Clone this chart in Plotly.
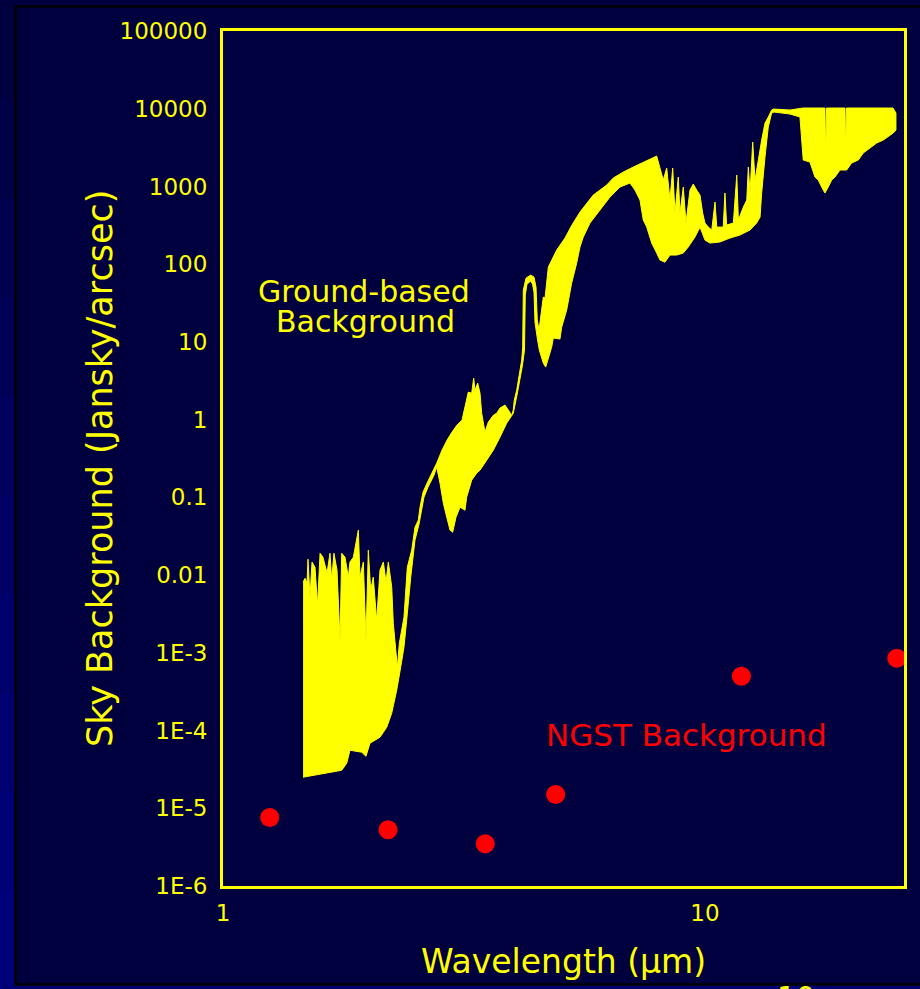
import plotly.graph_objects as go

# ---------------- data ----------------
# Ground-based sky background: upper envelope (wavelength um, Jy/arcsec^2)
ground_upper_wl = [1.466, 1.480, 1.494, 1.501, 1.515, 1.530, 1.552, 1.571, 1.590, 1.612,
                   1.644, 1.667, 1.681, 1.699, 1.724, 1.749, 1.763, 1.791, 1.820, 1.834,
                   1.864, 1.909, 1.924, 1.955, 1.980, 2.002, 2.025, 2.050, 2.084, 2.117,
                   2.151, 2.179, 2.203, 2.239, 2.256, 2.300, 2.322, 2.374, 2.412, 2.463,
                   2.502, 2.542, 2.563, 2.600, 2.650, 2.688, 2.727, 2.776, 2.847, 2.916,
                   2.986, 3.058, 3.132, 3.193, 3.228, 3.281, 3.312, 3.333, 3.376, 3.414,
                   3.441, 3.496, 3.552, 3.638, 3.697, 3.756, 3.847, 3.908, 3.972, 4.002,
                   4.021, 4.068, 4.119, 4.166, 4.186, 4.198, 4.253, 4.349, 4.418, 4.461,
                   4.488, 4.525, 4.619, 4.657, 4.731, 4.808, 4.924, 5.123, 5.297, 5.503,
                   5.682, 5.864, 6.055, 6.252, 6.452, 6.768, 7.099, 7.447, 7.752, 7.939,
                   8.065, 8.193, 8.328, 8.460, 8.570, 8.664, 8.802, 8.874, 9.015, 9.132,
                   9.308, 9.456, 9.611, 9.763, 9.890, 10.00, 10.16, 10.33, 10.49, 10.58,
                   10.91, 11.00, 11.09, 11.45, 11.64, 11.73, 12.01, 12.21, 12.30, 12.40,
                   12.56, 12.70, 13.11, 13.32, 13.53, 13.75, 13.86, 15.01, 15.97, 17.74,
                   17.80, 17.87, 19.52, 19.58, 19.66, 21.99, 24.55, 24.90]
ground_upper_val = [0.0081, 0.0091, 0.0079, 0.0160, 0.0052, 0.0147, 0.0126, 0.0041, 0.0191, 0.0170,
                    0.0106, 0.0191, 0.0086, 0.0191, 0.0116, 0.00145, 0.0191, 0.0170, 0.0094, 0.0147,
                    0.0170, 0.0379, 0.0094, 0.0147, 0.00145, 0.0209, 0.0064, 0.0094, 0.0026, 0.0116,
                    0.0147, 0.0081, 0.0147, 0.0070, 0.0024, 0.00065, 0.00133, 0.00287, 0.0126, 0.0209,
                    0.0413, 0.0509, 0.0748, 0.1166, 0.1523, 0.182, 0.217, 0.276, 0.405, 0.545,
                    0.691, 0.850, 0.985, 1.68, 2.26, 2.19, 3.42, 2.40, 2.95, 2.19,
                    1.21, 0.691, 0.929, 1.14, 1.21, 1.41, 1.54, 1.33, 1.14, 1.33,
                    1.78, 2.40, 3.97, 5.83, 8.57, 46.4, 66.2, 72.4, 68.2, 50.7,
                    19.1, 14.2, 37.7, 36.6, 91.8, 113, 152, 217, 319, 468,
                    611, 775, 899, 1042, 1283, 1532, 1777, 2061, 2321, 2462,
                    1725, 1209, 1725, 668, 1725, 455, 1321, 455, 982, 338,
                    899, 1074, 899, 775, 455, 338, 300, 275, 630, 300,
                    300, 823, 319, 338, 1402, 370, 543, 668, 1777, 823,
                    3727, 1209, 3955, 6545, 7822, 9623, 9911, 9623, 10209, 10209,
                    2186, 10209, 10209, 2940, 10209, 10209, 10209, 8805]

# Ground-based sky background: lower envelope
ground_lower_wl = [1.466, 1.565, 1.667, 1.763, 1.806, 1.834, 1.940, 1.980, 2.018, 2.117,
                   2.186, 2.239, 2.293, 2.337, 2.374, 2.405, 2.452, 2.502, 2.551, 2.575,
                   2.612, 2.663, 2.701, 2.740, 2.776, 2.820, 2.865, 2.912, 2.958, 2.996,
                   3.044, 3.103, 3.178, 3.203, 3.281, 3.360, 3.414, 3.525, 3.638, 3.756,
                   3.878, 4.002, 4.074, 4.132, 4.182, 4.222, 4.238, 4.273, 4.349, 4.387,
                   4.418, 4.439, 4.488, 4.532, 4.619, 4.672, 4.731, 4.808, 4.845, 5.002,
                   5.043, 5.165, 5.289, 5.417, 5.503, 5.591, 5.773, 6.055, 6.351, 6.662,
                   6.988, 7.157, 7.330, 7.447, 7.569, 7.752, 7.939, 8.065, 8.260, 8.460,
                   8.735, 9.015, 9.233, 9.533, 9.763, 10.00, 10.24, 10.74, 11.27, 11.82,
                   12.40, 12.80, 13.01, 13.11, 13.21, 13.32, 13.53, 13.75, 13.91, 15.01,
                   15.74, 15.99, 16.51, 16.91, 17.18, 17.46, 17.74, 18.02, 18.32, 18.61,
                   19.06, 19.68, 20.15, 20.80, 21.30, 21.99, 22.71, 23.44, 24.20, 24.58,
                   24.90]
ground_lower_val = [2.51e-5, 2.74e-5, 2.91e-5, 3.08e-5, 3.79e-5, 5.58e-5, 5.26e-5, 4.67e-5, 6.87e-5, 8.20e-5,
                    1.10e-4, 1.67e-4, 3.30e-4, 6.53e-4, 1.18e-3, 2.63e-3, 9.40e-3, 0.0281, 0.0452, 0.0645,
                    0.1006, 0.1353, 0.1616, 0.1931, 0.2446, 0.1523, 0.0842, 0.0556, 0.0379, 0.0356,
                    0.0556, 0.0748, 0.0684, 0.1006, 0.1665, 0.2049, 0.2239, 0.3011, 0.405, 0.595,
                    0.901, 1.21, 2.07, 3.22, 5.03, 7.84, 40.0, 55.4, 60.6, 55.4,
                    43.7, 18.0, 11.2, 7.84, 5.33, 4.74, 6.37, 8.57, 11.2, 10.9,
                    15.5, 25.7, 57.1, 103, 166, 223, 338, 497, 730, 982,
                    1106, 899, 668, 370, 300, 187, 139, 113, 106, 131,
                    131, 139, 166, 223, 300, 204, 187, 193, 217, 237,
                    275, 338, 404, 823, 1488, 2390, 5813, 8805, 9069, 8548,
                    7822, 2186, 2061, 1321, 1209, 982, 823, 982, 1209, 1321,
                    1626, 1626, 2001, 2186, 2690, 3120, 3618, 3955, 4587, 4869,
                    5319]

# NGST background points
ngst_wl = [1.25, 2.2, 3.5, 4.9, 11.9, 25.0]
ngst_val = [7.6e-6, 5.3e-6, 3.5e-6, 1.5e-5, 5.0e-4, 8.5e-4]

# axis tick labels
y_tick_vals = [1e5, 1e4, 1e3, 1e2, 1e1, 1, 0.1, 0.01, 1e-3, 1e-4, 1e-5, 1e-6]
y_tick_text = ["100000", "10000", "1000", "100", "10", "1", "0.1", "0.01",
               "1E-3", "1E-4", "1E-5", "1E-6"]
x_tick_vals = [1, 10]
x_tick_text = ["1", "10"]

# ---------------- styling ----------------
W, H = 920, 989
ML, MR, MT, MB = 223, 16, 31, 103
PW, PH = W - ML - MR, H - MT - MB
FONT = "DejaVu Sans"
YEL = "#ffff00"
RED = "#ff0000"
NAVY = "rgb(0,0,62)"


def px(xpix):
    return (xpix - ML) / PW


def py(ypix):
    return (H - MB - ypix) / PH


fig = go.Figure()

poly_x = ground_upper_wl + ground_lower_wl[::-1]
poly_y = ground_upper_val + ground_lower_val[::-1]
fig.add_trace(go.Scatter(x=poly_x, y=poly_y, mode="lines", fill="toself",
                         fillcolor=YEL, line=dict(color=YEL, width=1),
                         hoverinfo="skip", showlegend=False))

fig.add_trace(go.Scatter(x=ngst_wl, y=ngst_val, mode="markers",
                         marker=dict(color=RED, size=19, line=dict(width=0)),
                         cliponaxis=True, showlegend=False))

shapes = []
# left gradient strip (slide background)
strip_cols = [62, 70, 78, 86, 94, 102, 108, 114, 118, 122]
n = len(strip_cols)
for i, c in enumerate(strip_cols):
    y0 = i * H / n
    y1 = (i + 1) * H / n
    shapes.append(dict(type="rect", xref="paper", yref="paper", layer="below",
                       x0=px(0), x1=px(15), y0=py(y1), y1=py(y0),
                       fillcolor=f"rgb(0,0,{c})", line=dict(width=0)))
# bottom strip
shapes.append(dict(type="rect", xref="paper", yref="paper", layer="below",
                   x0=px(0), x1=px(W), y0=py(H), y1=py(985),
                   fillcolor="rgb(0,0,118)", line=dict(width=0)))
# black frame
shapes.append(dict(type="rect", xref="paper", yref="paper", layer="below",
                   x0=px(15.5), x1=px(W + 10), y0=py(984.5), y1=py(6.5),
                   fillcolor="rgba(0,0,0,0)", line=dict(color="black", width=2.5)))

annotations = [
    dict(text="Sky Background (Jansky/arcsec)", x=px(100), y=py(469), xref="paper", yref="paper",
         textangle=-90, showarrow=False, xanchor="center", yanchor="middle",
         font=dict(family=FONT, size=35, color=YEL)),
    dict(text="Wavelength (µm)", x=px(563), y=py(962), xref="paper", yref="paper",
         showarrow=False, xanchor="center", yanchor="middle",
         font=dict(family=FONT, size=33, color=YEL)),
    dict(text="Ground-based", x=px(364), y=py(292), xref="paper", yref="paper",
         showarrow=False, xanchor="center", yanchor="middle",
         font=dict(family=FONT, size=30, color=YEL)),
    dict(text="Background", x=px(365), y=py(322), xref="paper", yref="paper",
         showarrow=False, xanchor="center", yanchor="middle",
         font=dict(family=FONT, size=30, color=YEL)),
    dict(text="NGST Background", x=px(686), y=py(735), xref="paper", yref="paper",
         showarrow=False, xanchor="center", yanchor="middle",
         font=dict(family=FONT, size=31, color=RED)),
    dict(text="10", x=px(796), y=py(978), xref="paper", yref="paper",
         showarrow=False, xanchor="center", yanchor="top",
         font=dict(family=FONT, size=30, color=YEL)),
]

fig.update_layout(
    width=W, height=H,
    margin=dict(l=ML, r=MR, t=MT, b=MB, pad=0),
    paper_bgcolor=NAVY, plot_bgcolor="rgba(0,0,0,0)",
    showlegend=False,
    shapes=shapes, annotations=annotations,
    font=dict(family=FONT, color=YEL),
)
fig.update_xaxes(type="log", range=[0, 1.4129], showgrid=False, zeroline=False,
                 showline=True, mirror=True, linecolor=YEL, linewidth=3,
                 tickmode="array", tickvals=x_tick_vals, ticktext=x_tick_text,
                 ticks="outside", ticklen=4, tickcolor="rgba(0,0,0,0)",
                 tickfont=dict(family=FONT, size=23, color=YEL))
fig.update_yaxes(type="log", range=[-6, 5], showgrid=False, zeroline=False,
                 showline=True, mirror=True, linecolor=YEL, linewidth=3,
                 tickmode="array", tickvals=y_tick_vals, ticktext=y_tick_text,
                 ticks="outside", ticklen=8, tickcolor="rgba(0,0,0,0)",
                 tickfont=dict(family=FONT, size=23, color=YEL))

fig.write_html("out.html")
